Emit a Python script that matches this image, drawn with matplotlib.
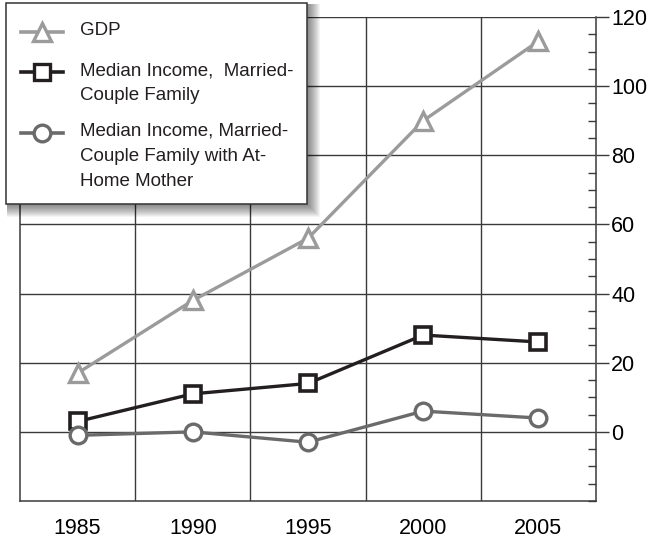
import matplotlib
matplotlib.use("Agg")
import matplotlib.pyplot as plt
from matplotlib.patches import Rectangle
from matplotlib.lines import Line2D
from matplotlib.ticker import MultipleLocator, FixedLocator

plt.rcParams['font.family'] = ['Liberation Sans', 'DejaVu Sans']

years = ["1985", "1990", "1995", "2000", "2005"]
gdp = [17, 38, 56, 90, 113]
married = [3, 11, 14, 28, 26]
at_home = [-1, 0, -3, 6, 4]
labels = ["GDP", "Median Income,  Married-\nCouple Family",
          "Median Income, Married-\nCouple Family with At-\nHome Mother"]

c_gdp = "#9b9b9b"
c_mar = "#231f20"
c_home = "#6a6a6a"
grid_c = "#3a3a3a"

W, H = 650, 541
fig = plt.figure(figsize=(W / 100, H / 100), dpi=100)
L, R, B, T = 20, 596, 501, 17
ax = fig.add_axes([L / W, 1 - B / H, (R - L) / W, (B - T) / H])

x = list(range(len(years)))
ax.plot(x, gdp, color=c_gdp, lw=2.4, marker='^', ms=13, mfc='white',
        mec=c_gdp, mew=2.4, zorder=3, clip_on=False)
ax.plot(x, married, color=c_mar, lw=2.4, marker='s', ms=11.5, mfc='white',
        mec=c_mar, mew=2.6, zorder=4, clip_on=False)
ax.plot(x, at_home, color=c_home, lw=2.4, marker='o', ms=12, mfc='white',
        mec=c_home, mew=2.4, zorder=5, clip_on=False)

ax.set_xlim(-0.5, len(years) - 0.5)
ax.set_ylim(-20, 120)
ax.set_xticks(x)
ax.set_xticklabels(years, fontsize=15.5)
ax.xaxis.set_minor_locator(FixedLocator([i + 0.5 for i in range(len(years) - 1)]))
ax.tick_params(axis='x', which='major', length=0, pad=12)
ax.tick_params(axis='x', which='minor', length=0)

ax.yaxis.tick_right()
ax.set_yticks([0, 20, 40, 60, 80, 100, 120])
ax.yaxis.set_minor_locator(MultipleLocator(5))
ax.tick_params(axis='y', which='major', direction='out', length=9, width=1,
               color=grid_c, labelsize=15.5, pad=2)
ax.tick_params(axis='y', which='minor', direction='in', length=6, width=1,
               color=grid_c)

ax.grid(True, axis='y', which='major', color=grid_c, lw=1)
ax.grid(True, axis='x', which='minor', color=grid_c, lw=1)
for s in ['left', 'bottom', 'right']:
    ax.spines[s].set_color(grid_c)
    ax.spines[s].set_linewidth(1.1)
ax.spines['top'].set_visible(False)

# legend overlay
lax = fig.add_axes([0, 0, 1, 1], zorder=10)
lax.set_xlim(0, W)
lax.set_ylim(H, 0)
lax.axis('off')
bx0, by0, bx1, by1 = 6, 3, 307, 204
for i in range(12, 0, -1):
    lax.add_patch(Rectangle((bx0 + 1, by0 + 1), (bx1 - bx0) + i, (by1 - by0) + i,
                            facecolor='black', alpha=0.045, lw=0))
lax.add_patch(Rectangle((bx0, by0), bx1 - bx0, by1 - by0, facecolor='white',
                        edgecolor='#333333', lw=1.1))

entries = [(c_gdp, '^', 13, 32), (c_mar, 's', 11.5, 72), (c_home, 'o', 12, 133)]
for (c, m, ms, yy), lab in zip(entries, labels):
    lax.add_line(Line2D([21, 63], [yy, yy], color=c, lw=2.6))
    lax.add_line(Line2D([42], [yy], color=c, marker=m, ms=ms, mfc='white',
                        mec=c, mew=2.4))
    lax.text(80, yy - 10, lab, fontsize=13.5, va='top', ha='left',
             color='#231f20', linespacing=1.62)

fig.savefig("out.png", dpi=100)
